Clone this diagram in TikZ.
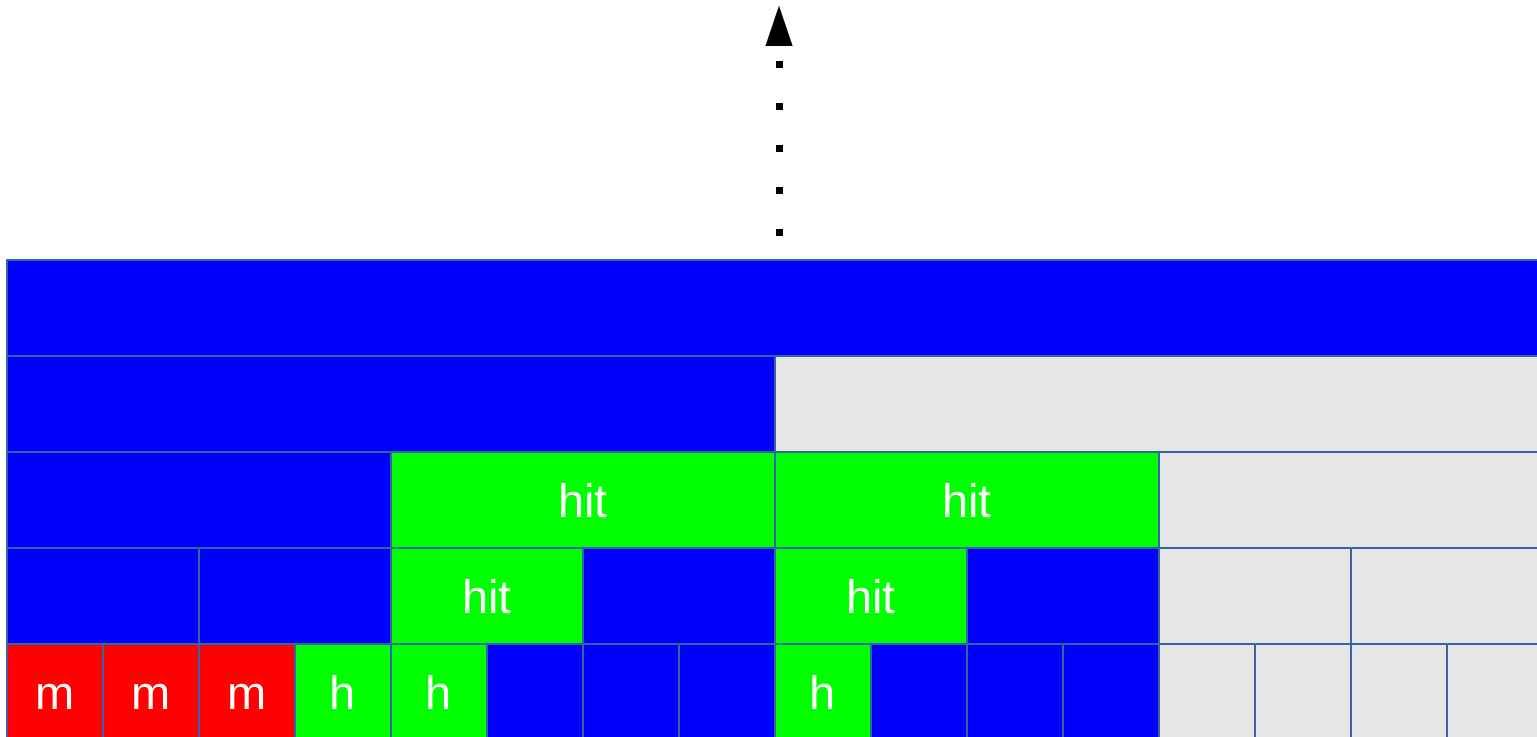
\documentclass[tikz,border=0pt]{standalone}
\usepackage{fontspec}
\setmainfont{Liberation Sans}
\usetikzlibrary{arrows.meta}
\definecolor{cellblue}{RGB}{0,0,255}
\definecolor{cellgreen}{RGB}{0,255,0}
\definecolor{cellred}{RGB}{255,0,0}
\definecolor{cellgray}{RGB}{230,230,230}
\definecolor{cellborder}{RGB}{52,101,164}
\begin{document}
\begin{tikzpicture}[
        x=0.5pt, y=-0.5pt,
        cell/.style={
            draw=cellborder,
            line width=0.6pt,
            anchor=north west,
            minimum height=48pt,
            inner sep=0pt,
            outer sep=0pt,
            text=white,
            text height=17pt,
            text depth=0pt,
            font=\fontsize{23.5}{28}\selectfont
        },
        up arrow/.style={
            line width=3.5pt,
            dash pattern=on 3.5pt off 17.5pt,
            -{Triangle[length=20pt,width=13.5pt,line width=0.1pt]}
        }
    ]
        \useasboundingbox (0,0) rectangle (1537,737);
        \clip (0,0) rectangle (1537,737);

        % level 0: root
        \node[cell, fill=cellblue, minimum width=768pt] (root) at (7,260) {};

        % level 1
        \foreach \c/\t [count=\i from 0] in {cellblue/{}, cellgray/{}}
            \node[cell, fill=\c, minimum width=384pt] (a\i) at ({7+\i*768},356) {\t};

        % level 2
        \foreach \c/\t [count=\i from 0] in {cellblue/{}, cellgreen/hit, cellgreen/hit, cellgray/{}}
            \node[cell, fill=\c, minimum width=192pt] (b\i) at ({7+\i*384},452) {\t};

        % level 3
        \foreach \c/\t [count=\i from 0] in {cellblue/{}, cellblue/{}, cellgreen/hit, cellblue/{},
                cellgreen/hit, cellblue/{}, cellgray/{}, cellgray/{}}
            \node[cell, fill=\c, minimum width=96pt] (c\i) at ({7+\i*192},548) {\t};

        % level 4: leaves
        \foreach \c/\t [count=\i from 0] in {cellred/m, cellred/m, cellred/m, cellgreen/h,
                cellgreen/h, cellblue/{}, cellblue/{}, cellblue/{}, cellgreen/h, cellblue/{},
                cellblue/{}, cellblue/{}, cellgray/{}, cellgray/{}, cellgray/{}, cellgray/{}}
            \node[cell, fill=\c, minimum width=48pt] (d\i) at ({7+\i*96},644) {\t};

        % path towards the top
        \coordinate (tail) at (779,236);
        \coordinate (tip) at (779,6);
        \draw[up arrow] (tail) -- (tip);
    \end{tikzpicture}
\end{document}
